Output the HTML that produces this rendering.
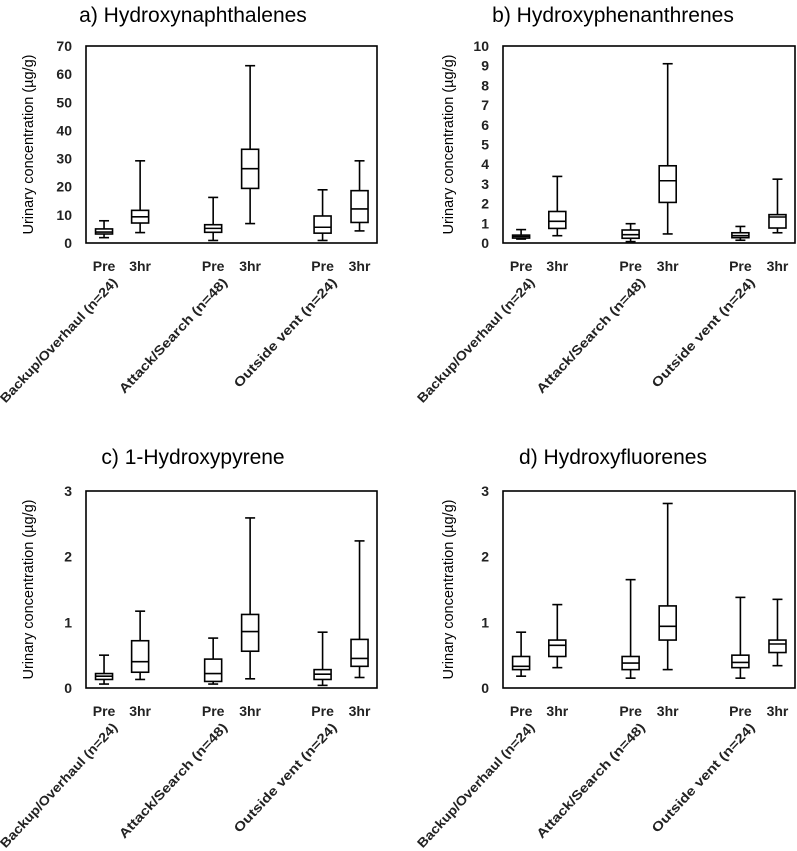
<!DOCTYPE html>
<html><head><meta charset="utf-8"><style>
html,body{margin:0;padding:0;background:#fff;}
svg{display:block;font-family:"Liberation Sans",sans-serif;}
</style></head><body>
<svg id="c" width="797" height="851" viewBox="0 0 797 851" xmlns="http://www.w3.org/2000/svg"></svg>
<script>
const groupLabels = ["Backup/Overhaul (n=24)", "Attack/Search (n=48)", "Outside vent (n=24)"];
const timeLabels = ["Pre", "3hr", "Pre", "3hr", "Pre", "3hr"];
const panelTitles = ["a) Hydroxynaphthalenes", "b) Hydroxyphenanthrenes", "c) 1-Hydroxypyrene", "d) Hydroxyfluorenes"];
const yMaxes = [70, 10, 3, 3];
const yTicksA = [0,10,20,30,40,50,60,70];
const yTicksB = [0,1,2,3,4,5,6,7,8,9,10];
const yTicksC = [0,1,2,3];
const yTicksD = [0,1,2,3];
// each box: [low, q1, median, q3, high]
const boxesA = [[1.9,3.2,3.9,5.0,7.9],[3.7,7.1,9.3,11.6,29.2],[0.9,3.8,5.2,6.5,16.2],[6.9,19.4,26.4,33.3,63],[0.9,3.5,5.6,9.6,18.9],[4.3,7.3,12.1,18.6,29.2]];
const boxesB = [[0.2,0.25,0.33,0.4,0.68],[0.37,0.74,1.1,1.6,3.38],[0.07,0.24,0.42,0.66,0.98],[0.46,2.06,3.16,3.92,9.1],[0.14,0.27,0.37,0.52,0.84],[0.52,0.76,1.32,1.44,3.24]];
const boxesC = [[0.06,0.13,0.18,0.22,0.5],[0.13,0.24,0.4,0.72,1.17],[0.06,0.1,0.22,0.44,0.76],[0.14,0.56,0.86,1.12,2.59],[0.04,0.13,0.21,0.28,0.85],[0.16,0.33,0.45,0.74,2.24]];
const boxesD = [[0.18,0.28,0.33,0.48,0.85],[0.31,0.48,0.65,0.73,1.27],[0.15,0.28,0.38,0.48,1.65],[0.28,0.73,0.94,1.25,2.81],[0.15,0.31,0.39,0.5,1.38],[0.34,0.54,0.67,0.73,1.35]];

const NS = "http://www.w3.org/2000/svg";
const svg = document.getElementById('c');
function mk(tag, attrs, parent){const e=document.createElementNS(NS,tag);for(const k in attrs)e.setAttribute(k,attrs[k]);(parent||svg).appendChild(e);return e;}

const panels = [
 {left:86,right:377,top:46,bottom:243,ticks:yTicksA,boxes:boxesA,titleX:193,titleY:22,axX:29,tickX:72},
 {left:503,right:795,top:46,bottom:243,ticks:yTicksB,boxes:boxesB,titleX:613,titleY:22,axX:449,tickX:489},
 {left:86,right:377,top:491,bottom:688,ticks:yTicksC,boxes:boxesC,titleX:193,titleY:464,axX:29,tickX:72},
 {left:503,right:795,top:491,bottom:688,ticks:yTicksD,boxes:boxesD,titleX:613,titleY:464,axX:449,tickX:489}
];
const xFrac = [0.062,0.186,0.437,0.564,0.813,0.94];

panels.forEach((p,pi)=>{
  const g = mk('g',{});
  
  
  const yS = v => p.bottom - v/yMaxes[pi]*(p.bottom-p.top);
  const xS = i => p.left + xFrac[i]*(p.right-p.left);
  const t = mk('text',{x:p.titleX,y:p.titleY,'text-anchor':'middle','font-size':21,fill:'#000'},g);
  t.textContent = panelTitles[pi];
  
  
  const fr = mk('rect',{x:p.left,y:p.top,width:p.right-p.left,height:p.bottom-p.top,fill:'none',stroke:'#000','stroke-width':1.6},g);
  
  
  const cy=(p.top+p.bottom)/2;
  const at = mk('text',{x:p.axX,y:cy,transform:`rotate(-90 ${p.axX} ${cy})`,'text-anchor':'middle','dominant-baseline':'central','font-size':14.5,fill:'#000'},g);
  at.textContent = "Urinary concentration (µg/g)";
  
  
  p.ticks.forEach(v=>{
    const tl = mk('text',{x:p.tickX,y:yS(v)+5,'text-anchor':'end','font-size':14,'font-weight':'bold',fill:'#222'},g);
    tl.textContent = v;
    
    
  });
  p.boxes.forEach((b,i)=>{
    const x = xS(i), w=17, cw=10;
    const bg = mk('g',{stroke:'#000','stroke-width':1.6,fill:'#fff'},g);
    
    
    mk('line',{x1:x,x2:x,y1:yS(b[4]),y2:yS(b[0])},bg);
    mk('line',{x1:x-cw/2,x2:x+cw/2,y1:yS(b[4]),y2:yS(b[4])},bg);
    mk('line',{x1:x-cw/2,x2:x+cw/2,y1:yS(b[0]),y2:yS(b[0])},bg);
    mk('rect',{x:x-w/2,y:yS(b[3]),width:w,height:Math.max(yS(b[1])-yS(b[3]),0.5)},bg);
    mk('line',{x1:x-w/2,x2:x+w/2,y1:yS(b[2]),y2:yS(b[2])},bg);
    const tl = mk('text',{x:x,y:p.bottom+28,'text-anchor':'middle','font-size':14,'font-weight':'bold',fill:'#222'},g);
    tl.textContent = timeLabels[i];
    
    
  });
  groupLabels.forEach((lab,gi)=>{
    const ex = xS(gi*2+1)-22, ey = p.bottom+40;
    const gl = mk('text',{x:ex,y:ey,transform:`rotate(-47 ${ex} ${ey})`,'text-anchor':'end','font-size':13,'font-weight':'bold',fill:'#222',textLength:165,lengthAdjust:'spacingAndGlyphs'},g);
    if(gi>0) gl.setAttribute('textLength', gi===1?152:144);
    gl.textContent = lab;
    
    
  });
});
</script>
</body></html>
